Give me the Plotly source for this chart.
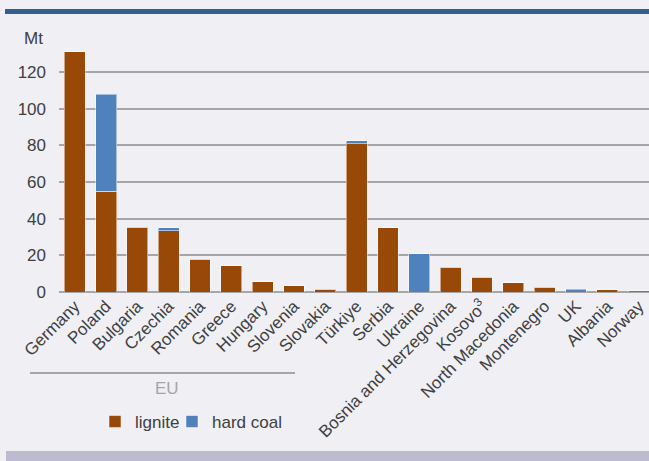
import plotly.graph_objects as go

# Coal production by country and type, Mt
countries = ["Germany", "Poland", "Bulgaria", "Czechia", "Romania", "Greece", "Hungary",
             "Slovenia", "Slovakia", "Türkiye", "Serbia", "Ukraine",
             "Bosnia and Herzegovina", "Kosovo<sup>3</sup>", "North Macedonia",
             "Montenegro", "UK", "Albania", "Norway"]
lignite = [131.0, 55.0, 35.3, 33.3, 17.9, 14.3, 5.7, 3.5, 1.6, 81.0, 35.1, 0.0,
           13.5, 8.0, 5.1, 2.7, 0.0, 1.3, 0.0]
hard_coal = [0.0, 52.9, 0.0, 1.8, 0.0, 0.0, 0.0, 0.0, 0.0, 1.4, 0.0, 20.9,
             0.0, 0.0, 0.0, 0.0, 1.5, 0.0, 0.8]
y_ticks = [0, 20, 40, 60, 80, 100, 120]

W, H = 649, 461
ML, MR, MT, MB = 59, 0, 40, 169
PW, PH = W - ML - MR, H - MT - MB


def px(x):
    return (x - ML) / PW


def py(y):
    return (H - MB - y) / PH


TEXT = "#404040"
GRID = "#a6a6a6"
FONT = "Liberation Sans, Arial, sans-serif"
FS = 17

fig = go.Figure()
fig.add_bar(x=countries, y=lignite, name="lignite", legend="legend",
            marker=dict(color="#984807", line=dict(color="rgba(255,255,255,0.5)", width=1)))
fig.add_bar(x=countries, y=hard_coal, name="hard coal", legend="legend2",
            marker=dict(color="#4f81bd", line=dict(color="rgba(255,255,255,0.5)", width=1)))

legend_style = dict(orientation="h", xanchor="left", yanchor="bottom",
                    font=dict(size=FS, color=TEXT), bgcolor="rgba(0,0,0,0)", itemwidth=30)

fig.update_layout(
    width=W, height=H,
    margin=dict(l=ML, r=MR, t=MT, b=MB),
    barmode="stack", bargap=0.33,
    paper_bgcolor="#efeff4", plot_bgcolor="#efeff4",
    font=dict(family=FONT, size=FS, color=TEXT),
    showlegend=True,
    legend=dict(x=px(95), y=py(440), **legend_style),
    legend2=dict(x=px(172), y=py(440), **legend_style),
    xaxis=dict(range=[-0.5, 18.33], tickangle=-45, showgrid=False, ticks="",
               tickfont=dict(size=FS, color=TEXT), showline=False),
    yaxis=dict(range=[0, (H - MB - MT) / 1.833], tickvals=y_ticks, showgrid=True,
               gridcolor=GRID, gridwidth=2, zeroline=True, zerolinecolor=GRID,
               zerolinewidth=2, tickfont=dict(size=FS, color=TEXT),
               ticklabelstandoff=12),
)

shapes = [
    # header rule
    dict(type="rect", xref="paper", yref="paper", x0=px(5), x1=px(W), y0=py(14), y1=py(9),
         fillcolor="#31608f", line=dict(width=0), layer="above"),
    # footer band
    dict(type="rect", xref="paper", yref="paper", x0=px(6), x1=px(W), y0=py(H), y1=py(451),
         fillcolor="#bdbbd0", line=dict(width=0), layer="above"),
    # EU grouping bracket
    dict(type="line", xref="paper", yref="paper", x0=px(30), x1=px(295), y0=py(373), y1=py(373),
         line=dict(color=GRID, width=2)),
]
fig.update_layout(shapes=shapes)

fig.add_annotation(text="Mt", xref="paper", yref="paper", x=px(22), y=py(38),
                   xanchor="left", yanchor="middle", showarrow=False,
                   font=dict(size=FS, color=TEXT))
fig.add_annotation(text="EU", xref="paper", yref="paper", x=px(167), y=py(388),
                   xanchor="center", yanchor="middle", showarrow=False,
                   font=dict(size=FS, color=GRID))

fig.write_html("out.html")
